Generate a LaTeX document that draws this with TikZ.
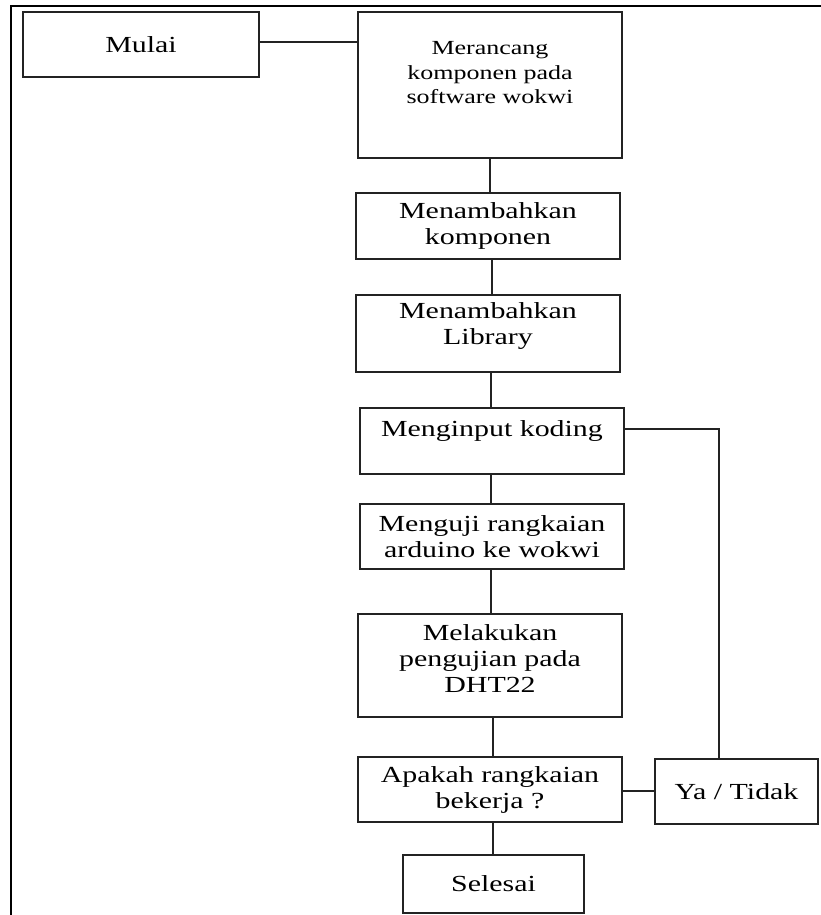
\documentclass[tikz,border=0pt]{standalone}
\usepackage{fontspec}
\setmainfont{Liberation Serif}[FakeStretch=1.3]
\usetikzlibrary{positioning,calc}
\definecolor{ink}{RGB}{35,35,35}
\tikzset{
  blk/.style={rectangle,draw=ink,line width=1.4pt,minimum width=264pt,minimum height=66pt,
    align=center,inner sep=0pt,font=\fontsize{23}{26}\selectfont},
  lnk/.style={draw=ink,line width=1.2pt},
  frm/.style={draw=black,line width=2.2pt},
}

\begin{document}
\begin{tikzpicture}[x=1pt,y=-1pt]
\useasboundingbox (0,0) rectangle (821,915);
% frame, runs off at right and bottom
\draw[frm] (11,915) -- (11,6) -- (821,6);
% boxes
\node[blk,minimum width=236pt,minimum height=65pt] (mulai) at (141,44.5) {Mulai};
\node[blk,minimum height=146pt,font=\fontsize{20}{24.5}\selectfont] (rancang) at (490,85)
  {Merancang\\komponen pada\\software wokwi\\~};
\node[blk] (komp) at (488,226) {Menambahkan\\komponen};
\node[blk,minimum height=77pt] (lib) at (488,333.5) {Menambahkan\\Library\\[-6pt]~};
\node[blk] (input) at (492,441) {Menginput koding\\[-2pt]~};
\node[blk,minimum height=65pt] (uji) at (492,536.5) {Menguji rangkaian\\arduino ke wokwi};
\node[blk,minimum height=103pt] (tes) at (490,665.5) {Melakukan\\pengujian pada\\DHT22\\[-13pt]~};
\node[blk,minimum height=65pt] (cek) at (490,789.5) {Apakah rangkaian\\bekerja ?};
\node[blk,minimum width=163pt,minimum height=65pt] (yt) at (736.5,791.5) {Ya / Tidak};
\node[blk,minimum width=181pt,minimum height=58pt] (selesai) at (493.5,884) {Selesai};
% connectors
\draw[lnk] ([yshift=2.5pt]mulai.east) -- ([yshift=2.5pt]mulai.east -| rancang.west);
\draw[lnk] (rancang.south) -- (rancang.south |- komp.north);
\draw[lnk] ([xshift=4pt]komp.south) -- ([xshift=4pt]komp.south |- lib.north);
\draw[lnk] ([xshift=3pt]lib.south) -- ([xshift=3pt]lib.south |- input.north);
\draw[lnk] ([xshift=-1pt]input.south) -- ([xshift=-1pt]input.south |- uji.north);
\draw[lnk] ([xshift=-1pt]uji.south) -- ([xshift=-1pt]uji.south |- tes.north);
\draw[lnk] ([xshift=3pt]tes.south) -- ([xshift=3pt]tes.south |- cek.north);
\draw[lnk] ([xshift=3pt]cek.south) -- ([xshift=3pt]cek.south |- selesai.north);
\draw[lnk] ([yshift=-1.5pt]cek.east) -- ([yshift=-1.5pt]cek.east -| yt.west);
\draw[lnk] ([yshift=12pt]input.east) -| ([xshift=-17.5pt]yt.north);
\end{tikzpicture}
\end{document}
